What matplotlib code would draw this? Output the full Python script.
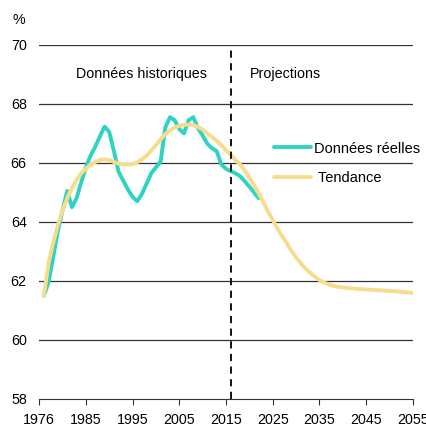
import matplotlib
matplotlib.use("Agg")
from matplotlib import pyplot as plt

plt.rcParams['font.family'] = ['Liberation Sans', 'DejaVu Sans']

# données réelles, 1976-2022
years_real = list(range(1976, 2023))
real = [61.5, 61.95, 62.8, 63.7, 64.4, 65.05, 64.5, 64.8, 65.35, 65.85,
        66.25, 66.55, 66.9, 67.23, 67.05, 66.4, 65.7, 65.4, 65.1, 64.85,
        64.7, 64.95, 65.3, 65.65, 65.85, 66.05, 67.2, 67.55, 67.45, 67.15,
        67.0, 67.45, 67.55, 67.18, 66.93, 66.65, 66.5, 66.4, 65.95, 65.8,
        65.72, 65.65, 65.55, 65.38, 65.2, 65.0, 64.8]

# tendance, 1976-2055
years_trend = list(range(1976, 2056))
trend = [61.5, 62.6, 63.3, 63.9, 64.4, 64.8, 65.15, 65.42, 65.65, 65.8,
         65.95, 66.03, 66.1, 66.12, 66.1, 66.03, 65.98, 65.95, 65.94, 65.96,
         66.02, 66.12, 66.25, 66.42, 66.6, 66.8, 66.98, 67.1, 67.2, 67.26,
         67.29, 67.3, 67.28, 67.22, 67.13, 67.0, 66.88, 66.75, 66.6, 66.43,
         66.28, 66.1, 65.95, 65.75, 65.5, 65.25, 64.97, 64.66, 64.35, 64.07,
         63.78, 63.52, 63.28, 63.02, 62.8, 62.6, 62.42, 62.28, 62.15, 62.03,
         61.95, 61.88, 61.83, 61.8, 61.78, 61.76, 61.75, 61.73, 61.72, 61.71,
         61.7, 61.69, 61.68, 61.67, 61.66, 61.65, 61.64, 61.62, 61.61, 61.59]

tick_pos = [1975, 1985, 1995, 2005, 2015, 2025, 2035, 2045, 2055]
tick_labels = ["1976", "1985", "1995", "2005", "2015", "2025", "2035", "2045", "2055"]
split_year = 2016

fig = plt.figure(figsize=(4.26, 4.28), dpi=100)
ax = fig.add_axes([0.092, 0.068, 0.877, 0.827])

for v in range(60, 71, 2):
    ax.axhline(v, color="#333333", lw=0.9, zorder=1)

ax.plot(years_real, real, color="#2ED3C3", lw=2.8, label="Données réelles",
        solid_capstyle="round", solid_joinstyle="round", zorder=2)
ax.plot(years_trend, trend, color="#F8DC8E", lw=2.8, label=" Tendance",
        solid_capstyle="round", solid_joinstyle="round", zorder=3)
ax.axvline(split_year, color="black", lw=1.3, ls=(0, (4, 3)), zorder=4)

ax.set_xlim(1975, 2055)
ax.set_ylim(58, 70)
ax.set_xticks(tick_pos)
ax.set_xticklabels(tick_labels)
ax.set_yticks(range(58, 71, 2))
ax.tick_params(axis="y", length=0, labelsize=10.3, pad=9)
ax.tick_params(axis="x", length=4, direction="out", labelsize=10.3, pad=6,
               color="#333333")
for s in ["left", "right", "top"]:
    ax.spines[s].set_visible(False)
ax.spines["bottom"].set_color("#333333")

ax.text(1996.8, 69.0, "Données historiques", ha="center", va="center", fontsize=10.3)
ax.text(2027.75, 69.0, "Projections", ha="center", va="center", fontsize=10.3)
fig.text(0.03, 0.953, "%", fontsize=10.3, va="center")

ax.legend(loc="upper left", bbox_to_anchor=(0.629, 0.727), frameon=False,
          fontsize=10.5, handlelength=2.5, handletextpad=0.25, labelspacing=1.05,
          borderpad=0, borderaxespad=0)

fig.savefig("out.png")
